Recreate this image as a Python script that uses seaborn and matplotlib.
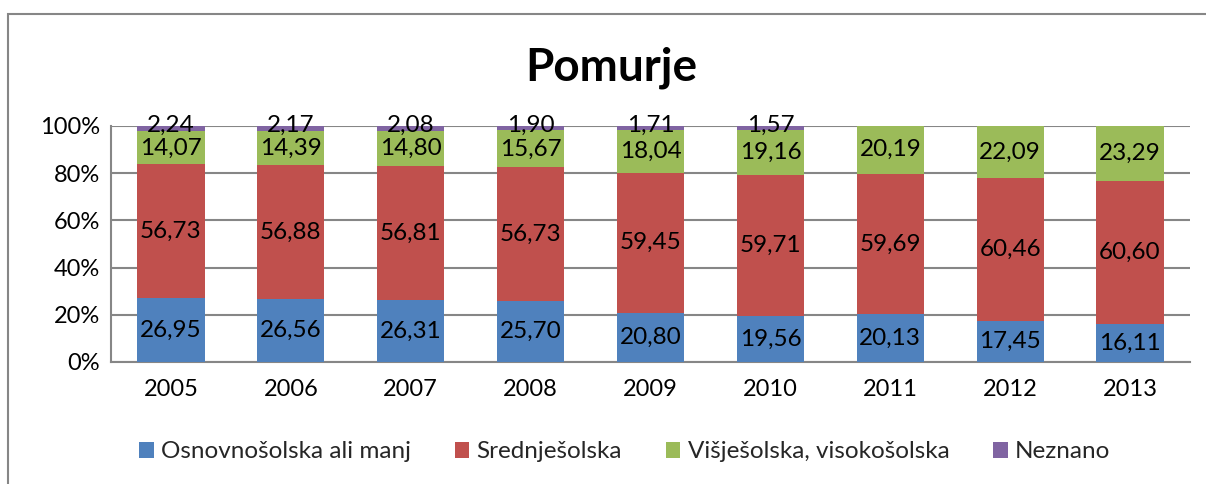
import numpy as np
import pandas as pd
import matplotlib
matplotlib.use("Agg")
import matplotlib.pyplot as plt
import seaborn as sns
from matplotlib.patches import Rectangle, Patch

years = ["2005", "2006", "2007", "2008", "2009", "2010", "2011", "2012", "2013"]
osnovna = [26.95, 26.56, 26.31, 25.70, 20.80, 19.56, 20.13, 17.45, 16.11]
srednja = [56.73, 56.88, 56.81, 56.73, 59.45, 59.71, 59.69, 60.46, 60.60]
visja = [14.07, 14.39, 14.80, 15.67, 18.04, 19.16, 20.19, 22.09, 23.29]
neznano = [2.24, 2.17, 2.08, 1.90, 1.71, 1.57, 0, 0, 0]
names = ["Osnovnošolska ali manj", "Srednješolska", "Višješolska, visokošolska", "Neznano"]
colors = ["#4f81bd", "#c0504d", "#9bbb59", "#8064a2"]

sns.set_style("white")
plt.rcParams["font.family"] = ["Lato", "DejaVu Sans"]

vals = np.array([osnovna, srednja, visja, neznano])
shares = vals / vals.sum(axis=0) * 100
cum = np.cumsum(shares, axis=0)

fig = plt.figure(figsize=(12.06, 4.84), dpi=100)
fig.patches.append(Rectangle((8/1206, -0.1), 1.2, 1 - 14/484 + 0.1, transform=fig.transFigure,
                             fill=False, edgecolor="#868686", linewidth=1.5))
ax = fig.add_axes([111/1206, 1 - 362/484, (1190-111)/1206, (362-126)/484])

# draw from top segment down so lower ones cover
for i in range(3, -1, -1):
    df = pd.DataFrame({"year": years, "val": cum[i]})
    sns.barplot(data=df, x="year", y="val", color=colors[i], width=0.56,
                saturation=1, linewidth=0, ax=ax, zorder=3)

for i in range(4):
    for j in range(len(years)):
        if vals[i, j] == 0:
            continue
        mid = cum[i, j] - shares[i, j] / 2
        if i == 3:
            mid += 1.2  # small top segment, label sits a bit higher
        ax.text(j, mid, f"{vals[i, j]:.2f}".replace(".", ","), ha="center", va="center",
                fontsize=17.5, color="black", zorder=5)

ax.set_ylim(0, 100)
ax.set_xlim(-0.5, 8.5)
ax.set_yticks([0, 20, 40, 60, 80, 100])
ax.set_yticklabels([f"{t}%" for t in [0, 20, 40, 60, 80, 100]])
ax.yaxis.grid(True, color="#868686", linewidth=1.5, zorder=0)
ax.set_axisbelow(True)
ax.set_xlabel("")
ax.set_ylabel("")
ax.tick_params(axis="both", length=0, labelsize=17, labelcolor="black")
ax.tick_params(axis="x", pad=12)
ax.tick_params(axis="y", pad=8)
for s in ["top", "right"]:
    ax.spines[s].set_visible(False)
for s in ["left", "bottom"]:
    ax.spines[s].set_color("#868686")
    ax.spines[s].set_linewidth(1.5)

fig.text(0.507, 1 - 68/484, "Pomurje", ha="center", va="center", fontsize=33,
         fontweight="bold", color="black")

handles = [Patch(facecolor=c, edgecolor="none") for c in colors]
fig.legend(handles, names, loc="center", bbox_to_anchor=(0.518, 1 - 452/484), ncol=4,
           frameon=False, fontsize=17.5, handlelength=0.6, handleheight=0.6,
           handletextpad=0.3, columnspacing=1.8)

fig.savefig("out.png", dpi=100)
